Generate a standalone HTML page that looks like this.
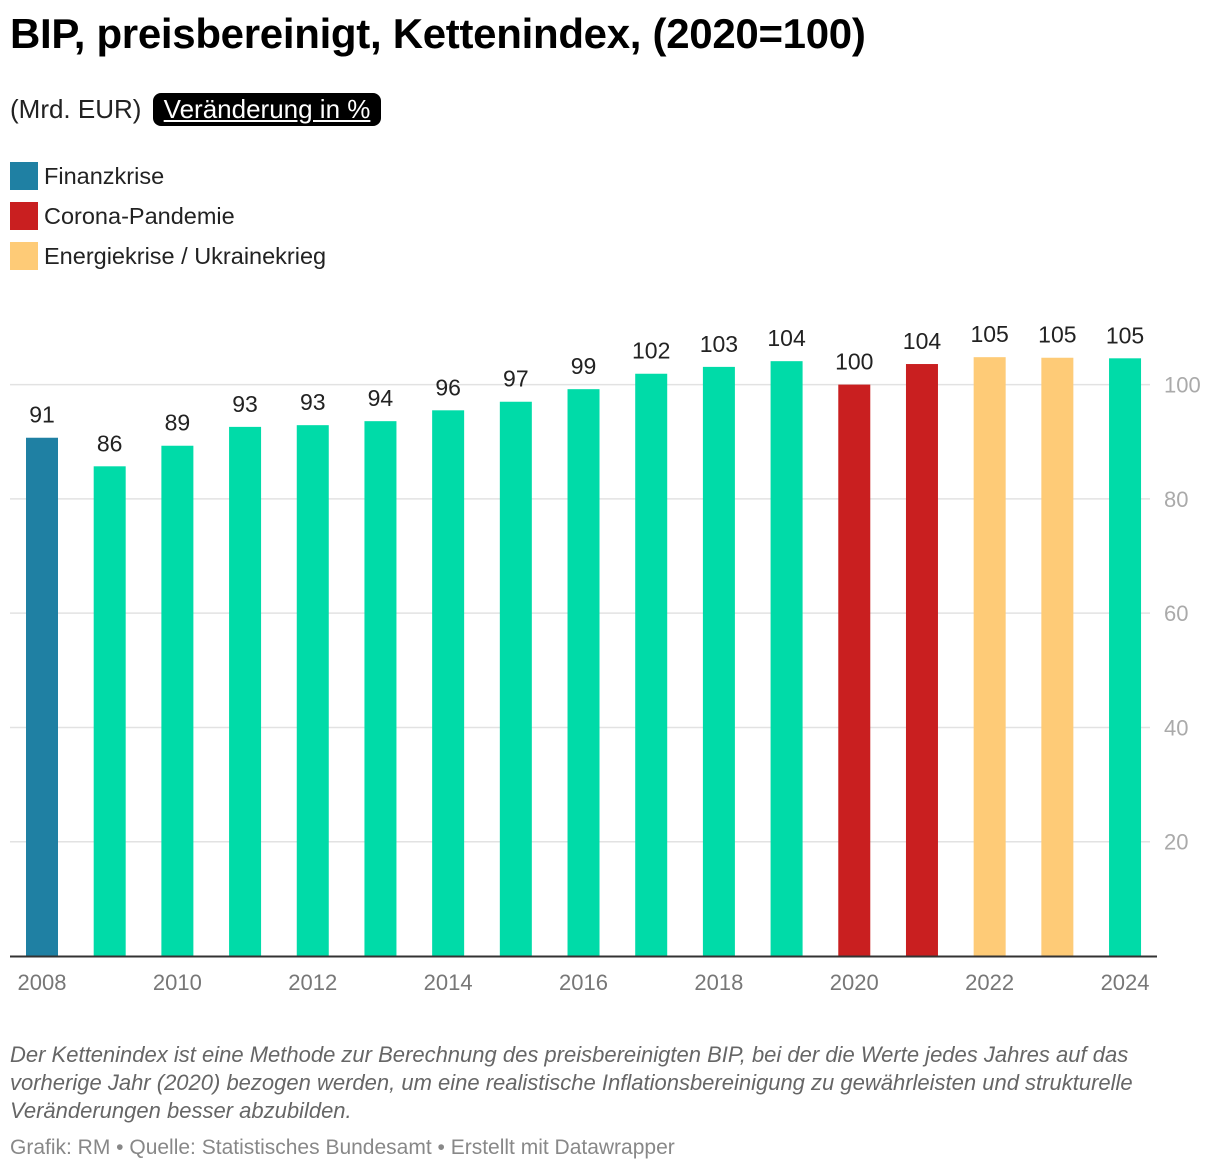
<!DOCTYPE html>
<html><head><meta charset="utf-8"><style>
body{margin:0;background:#fff;font-family:"Liberation Sans",sans-serif;color:#000}
#wrap{position:relative;width:1220px;height:1174px;overflow:hidden}
h1{position:absolute;left:10px;top:10px;margin:0;font-size:42px;font-weight:bold;letter-spacing:-0.3px}
.sub{position:absolute;left:10px;top:93px;font-size:26px;color:#222}
.btn{display:inline-block;background:#000;color:#fff;border-radius:8px;padding:0 11px;text-decoration:underline;margin-left:4px;line-height:33px}
.leg{position:absolute;left:10px;font-size:23.5px;color:#222;display:flex;align-items:center}
.leg span.sw{display:inline-block;width:28px;height:28px;margin-right:6px}
.note{position:absolute;left:10px;top:1041px;width:1205px;font-size:22px;font-style:italic;color:#666;line-height:28px}
.src{position:absolute;left:10px;top:1136px;font-size:21px;color:#888}
svg{position:absolute;left:0;top:0}
</style></head><body><div id="wrap">
<h1>BIP, preisbereinigt, Kettenindex, (2020=100)</h1>
<div class="sub">(Mrd. EUR) <span class="btn">Veränderung in %</span></div>
<div class="leg" style="top:162px"><span class="sw" style="background:#1f80a3"></span>Finanzkrise</div>
<div class="leg" style="top:202px"><span class="sw" style="background:#c91f20"></span>Corona-Pandemie</div>
<div class="leg" style="top:242px"><span class="sw" style="background:#fecb77"></span>Energiekrise / Ukrainekrieg</div>
<svg id="chart" width="1220" height="1174"></svg>
<div class="note">Der Kettenindex ist eine Methode zur Berechnung des preisbereinigten BIP, bei der die Werte jedes Jahres auf das vorherige Jahr (2020) bezogen werden, um eine realistische Inflationsbereinigung zu gewährleisten und strukturelle Veränderungen besser abzubilden.</div>
<div class="src">Grafik: RM • Quelle: Statistisches Bundesamt • Erstellt mit Datawrapper</div>
</div>
<script>
const years=[2008,2009,2010,2011,2012,2013,2014,2015,2016,2017,2018,2019,2020,2021,2022,2023,2024];
const values=[90.7,85.7,89.3,92.6,92.9,93.6,95.5,97.0,99.2,101.9,103.1,104.1,100.0,103.6,104.8,104.7,104.6];
const groups=["f","n","n","n","n","n","n","n","n","n","n","n","c","c","e","e","n"];
const yTicks=[20,40,60,80,100];
const xTickYears=[2008,2010,2012,2014,2016,2018,2020,2022,2024];
const colors={f:"#1f80a3",n:"#00dba8",c:"#c91f20",e:"#fecb77"};
const svg=document.getElementById('chart');const NS="http://www.w3.org/2000/svg";
const y=v=>956-v*5.714;const x=i=>42+i*67.69;const bw=32;
function mk(t,a){const e=document.createElementNS(NS,t);for(const k in a)e.setAttribute(k,a[k]);svg.appendChild(e);return e;}
yTicks.forEach(t=>{
 const l=mk('line',{x1:10,x2:1150,y1:y(t),y2:y(t),stroke:'#e2e2e2','stroke-width':1.5});
 
 
 const tx=mk('text',{x:1164,y:y(t)+8,'font-size':22,fill:'#aaa','font-family':'Liberation Sans'});tx.textContent=t;
 
 
});
years.forEach((yr,i)=>{
 const r=mk('rect',{x:x(i)-bw/2,y:y(values[i]),width:bw,height:956-y(values[i]),fill:colors[groups[i]]});
 
 
 const t=mk('text',{x:x(i),y:y(values[i])-15,'text-anchor':'middle','font-size':23,fill:'#222','font-family':'Liberation Sans'});t.textContent=Math.round(values[i]);
 
 
});
const base=mk('line',{x1:10,x2:1157,y1:956.5,y2:956.5,stroke:'#333','stroke-width':2});


xTickYears.forEach(yr=>{
 const i=years.indexOf(yr);
 const t=mk('text',{x:x(i),y:990,'text-anchor':'middle','font-size':22,fill:'#777','font-family':'Liberation Sans'});t.textContent=yr;
 
 
});
</script></body></html>
